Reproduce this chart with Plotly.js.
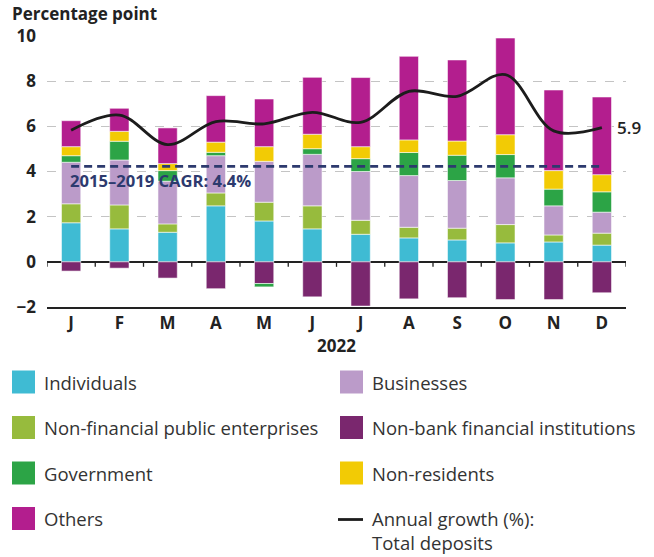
<!DOCTYPE html>
<html>
<head>
<meta charset="utf-8">
<script src="https://cdn.plot.ly/plotly-3.0.1.min.js"></script>
<style>html,body{margin:0;padding:0;background:#fff;}#chart{width:654px;height:557px;}</style>
</head>
<body>
<div id="chart"></div>
<script>
// ---- data ----
var monthLabels = ['J','F','M','A','M','J','J','A','S','O','N','D'];
var yearLabel = '2022';
var individuals = [1.73, 1.46, 1.31, 2.48, 1.81, 1.46, 1.22, 1.06, 0.97, 0.84, 0.88, 0.74];
var nonFinancialPublic = [0.84, 1.06, 0.37, 0.57, 0.83, 1.02, 0.62, 0.47, 0.52, 0.81, 0.31, 0.53];
var businesses = [1.84, 1.99, 1.89, 1.65, 1.81, 2.28, 2.16, 2.29, 2.11, 2.07, 1.29, 0.93];
var nonBankFinancial = [-0.41, -0.28, -0.72, -1.19, -0.96, -1.55, -1.96, -1.64, -1.59, -1.67, -1.67, -1.37];
var government = [0.29, 0.83, 0.47, 0.15, -0.15, 0.25, 0.57, 1.02, 1.12, 1.03, 0.74, 0.90];
var nonResidents = [0.40, 0.44, 0.31, 0.45, 0.65, 0.64, 0.53, 0.56, 0.63, 0.88, 0.82, 0.76];
var others = [1.15, 1.02, 1.58, 2.06, 2.11, 2.52, 3.06, 3.70, 3.59, 4.28, 3.57, 3.44];
var annualGrowth = [5.83, 6.50, 5.19, 6.21, 6.11, 6.62, 6.18, 7.55, 7.33, 8.29, 5.80, 5.94];
var cagrLevel = 4.23;
var cagrLabel = '2015–2019 CAGR: 4.4%';
var lastValueLabel = '5.9';
var yTicks = [-2, 0, 2, 4, 6, 8, 10];

var seriesNames = {
  ind: 'Individuals', nfpe: 'Non-financial public enterprises', bus: 'Businesses',
  nbfi: 'Non-bank financial institutions', gov: 'Government', nr: 'Non-residents',
  oth: 'Others', growth: 'Annual growth (%):<br>Total deposits'
};
var colors = {
  ind: '#3fbbd3', nfpe: '#97bb3d', bus: '#bb9bc9', nbfi: '#7a276e',
  gov: '#2ca446', nr: '#f2cb05', oth: '#b31e8e', growth: '#1c1c1c', cagr: '#2d3a6e'
};

// ---- chart ----
var xIdx = monthLabels.map(function (_, i) { return i; });
var FONT = 'Open Sans, DejaVu Sans, sans-serif';
var TXT = '#222222';

function barTrace(key, vals) {
  return {
    type: 'bar', x: xIdx, y: vals, name: seriesNames[key],
    marker: { color: colors[key], line: { color: 'rgba(255,255,255,0.7)', width: 0.8 } },
    showlegend: false, hoverinfo: 'y'
  };
}

var traces = [
  barTrace('ind', individuals),
  barTrace('nfpe', nonFinancialPublic),
  barTrace('bus', businesses),
  barTrace('nbfi', nonBankFinancial),
  barTrace('gov', government),
  barTrace('nr', nonResidents),
  barTrace('oth', others),
  {
    type: 'scatter', mode: 'lines', x: xIdx, y: annualGrowth,
    line: { color: colors.growth, width: 2.8, shape: 'spline', smoothing: 1 },
    showlegend: false, hoverinfo: 'y'
  },
  {
    type: 'scatter', mode: 'lines', x: [xIdx[0], xIdx[xIdx.length - 1]], y: [cagrLevel, cagrLevel],
    line: { color: colors.cagr, width: 2.8, dash: '8px,5px' },
    showlegend: false, hoverinfo: 'skip'
  }
];

// boundary ticks on the zero line and on the bottom axis
var shapes = [];
for (var b = 0; b <= monthLabels.length; b++) {
  shapes.push({ type: 'line', xref: 'x', yref: 'y', x0: b - 0.5, x1: b - 0.5,
    ysizemode: 'pixel', yanchor: 0, y0: 0, y1: -5, line: { color: '#222', width: 1.3 } });
  shapes.push({ type: 'line', xref: 'x', yref: 'y', x0: b - 0.5, x1: b - 0.5,
    ysizemode: 'pixel', yanchor: yTicks[0], y0: 0, y1: -10, line: { color: '#222', width: 1.3 } });
}

// legend (drawn manually)
var L = 47, R = 626, T = 36, B = 307;
function fx(px) { return (px - L) / (R - L); }
function fy(py) { return (B - py) / (B - T); }
var legendOrder = [
  ['ind', 'bar'], ['bus', 'bar'], ['nfpe', 'bar'], ['nbfi', 'bar'],
  ['gov', 'bar'], ['nr', 'bar'], ['oth', 'bar'], ['growth', 'line']
];
var colX = [12, 340];
var rowY = [382, 427.5, 473, 518.5];
var annotations = [];
var LEGSIZE = 18.5;
legendOrder.forEach(function (it, k) {
  var cx = colX[k % 2], cy = rowY[Math.floor(k / 2)];
  if (it[1] === 'bar') {
    shapes.push({ type: 'rect', xref: 'paper', yref: 'paper',
      x0: fx(cx), x1: fx(cx + 23), y0: fy(cy - 11.5), y1: fy(cy + 11.5),
      fillcolor: colors[it[0]], line: { width: 0 } });
    annotations.push({ xref: 'paper', yref: 'paper', x: fx(cx + 29.5), y: fy(cy),
      xanchor: 'left', yanchor: 'middle', showarrow: false, text: seriesNames[it[0]],
      font: { family: FONT, size: LEGSIZE, color: '#333' } });
  } else {
    shapes.push({ type: 'line', xref: 'paper', yref: 'paper',
      x0: fx(cx - 2), x1: fx(cx + 23), y0: fy(cy + 1), y1: fy(cy + 1),
      line: { color: colors.growth, width: 2.8 } });
    annotations.push({ xref: 'paper', yref: 'paper', x: fx(cx + 29.5), y: fy(cy - 14.5),
      xanchor: 'left', yanchor: 'top', showarrow: false, align: 'left', text: seriesNames[it[0]],
      font: { family: FONT, size: LEGSIZE, color: '#333' } });
  }
});

annotations.push({ xref: 'x', yref: 'y', x: xIdx[0], y: cagrLevel, yshift: -14, xshift: -3,
  xanchor: 'left', yanchor: 'middle', showarrow: false, text: cagrLabel,
  font: { family: FONT, size: 16.6, color: colors.cagr, weight: 'bold' } });
annotations.push({ xref: 'x', yref: 'y', x: xIdx[xIdx.length - 1], y: annualGrowth[annualGrowth.length - 1],
  xshift: 13, xanchor: 'left', yanchor: 'middle', showarrow: false, text: lastValueLabel,
  font: { family: FONT, size: 17, color: TXT, weight: 600 } });

var layout = {
  width: 654, height: 557,
  margin: { l: L, r: 654 - R, t: T, b: 557 - B, pad: 0 },
  paper_bgcolor: '#fff', plot_bgcolor: '#fff',
  barmode: 'relative', bargap: 0.6,
  font: { family: FONT, color: TXT },
  title: { text: 'Percentage point', xref: 'container', yref: 'container',
    x: 12 / 654, xanchor: 'left', y: 1 - 14 / 557, yanchor: 'middle',
    font: { family: FONT, size: 17, color: TXT, weight: 'bold' } },
  xaxis: {
    range: [-0.5, monthLabels.length - 0.5], tickvals: xIdx, ticktext: monthLabels,
    ticks: '', showgrid: false, zeroline: false,
    showline: true, linecolor: '#222', linewidth: 1.5,
    tickfont: { family: FONT, size: 17, color: TXT, weight: 'bold' },
    title: { text: yearLabel, standoff: 6, font: { family: FONT, size: 17, color: TXT, weight: 'bold' } }
  },
  yaxis: {
    range: [yTicks[0], yTicks[yTicks.length - 1]], tickvals: yTicks,
    ticks: '', showline: false,
    showgrid: true, gridcolor: '#c4c4c4', griddash: 'dash', gridwidth: 1,
    zeroline: true, zerolinecolor: '#222', zerolinewidth: 1.5,
    ticklabelstandoff: 10,
    tickfont: { family: FONT, size: 17, color: TXT, weight: 'bold' }
  },
  shapes: shapes,
  annotations: annotations,
  showlegend: false
};

Plotly.newPlot('chart', traces, layout, { displayModeBar: false, staticPlot: true });
</script>
</body>
</html>
